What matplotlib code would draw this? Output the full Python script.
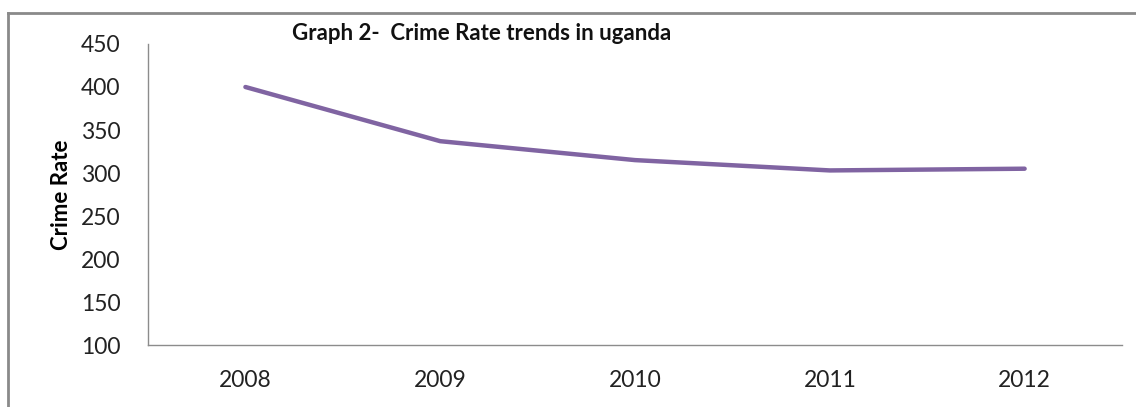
import matplotlib.pyplot as plt
from matplotlib.lines import Line2D

# Crime rate per year
years = ['2008', '2009', '2010', '2011', '2012']
crime_rate = [400, 337, 315, 303, 305]
y_ticks = [100, 150, 200, 250, 300, 350, 400, 450]

plt.rcParams['font.family'] = ['Lato', 'DejaVu Sans']

fig = plt.figure(figsize=(11.36, 4.07), dpi=100)
ax = fig.add_axes([0.1303, 0.1523, 0.8574, 0.7396])

x = list(range(len(years)))
ax.plot(x, crime_rate, color='#8064A2', linewidth=3.2, solid_capstyle='round')

ax.set_xlim(-0.5, len(years) - 0.5)
ax.set_ylim(100, 450)
ax.set_xticks(x)
ax.set_xticklabels(years)
ax.set_yticks(y_ticks)

ax.tick_params(axis='both', length=0, labelsize=16.5, colors='#222222')
ax.tick_params(axis='y', pad=20)
ax.tick_params(axis='x', pad=18)

for side in ['top', 'right']:
    ax.spines[side].set_visible(False)
for side in ['left', 'bottom']:
    ax.spines[side].set_color('#8c8c8c')
    ax.spines[side].set_linewidth(1)

ax.set_ylabel('Crime Rate', fontsize=16, fontweight='bold', labelpad=6)

fig.text(0.257, 0.918, 'Graph 2-  Crime Rate trends in uganda', fontsize=16,
         fontweight='bold', ha='left', va='center', color='#111111')

# frame edges around the chart
fig.add_artist(Line2D([0.007, 1.0], [0.968, 0.968], color='#8a8a8a', linewidth=2,
                      transform=fig.transFigure))
fig.add_artist(Line2D([0.007, 0.007], [0.0, 0.968], color='#8a8a8a', linewidth=2,
                      transform=fig.transFigure))

fig.savefig('out.png', dpi=100)
